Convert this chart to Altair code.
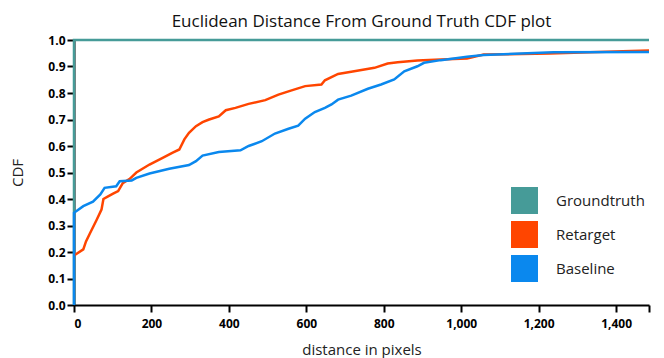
import altair as alt
import pandas as pd

series_names = ["Groundtruth", "Retarget", "Baseline"]
series_colors = ["#469B98", "#FF4500", "#0A88EE"]

gt_x = [0, 0, 1485]
gt_y = [0.0, 1.0, 1.0]

ret_x = [0, 24, 31, 41, 58, 71, 76, 88, 101, 114, 126, 144, 161, 195, 229, 255, 272, 285, 297, 315, 332, 349,
         374, 392, 417, 451, 494, 528, 562, 597, 639, 648, 682, 716, 776, 810, 836, 887, 947, 1015, 1058, 1228, 1417, 1485]
ret_y = [0.187, 0.21, 0.24, 0.27, 0.32, 0.36, 0.40, 0.41, 0.42, 0.43, 0.46, 0.476, 0.50, 0.53, 0.555, 0.575, 0.587,
         0.625, 0.65, 0.675, 0.69, 0.70, 0.712, 0.735, 0.744, 0.759, 0.773, 0.794, 0.81, 0.826, 0.832, 0.848, 0.872,
         0.88, 0.895, 0.911, 0.916, 0.923, 0.926, 0.93, 0.945, 0.949, 0.958, 0.96]

base_x = [0, 0, 24, 49, 68, 79, 109, 118, 149, 161, 195, 246, 297, 315, 332, 374, 430, 451, 485, 519, 554, 579,
          597, 622, 648, 665, 682, 716, 759, 793, 827, 853, 887, 904, 947, 1015, 1058, 1238, 1485]
base_y = [0.0, 0.348, 0.373, 0.39, 0.417, 0.442, 0.448, 0.467, 0.47, 0.48, 0.496, 0.514, 0.528, 0.543, 0.564,
          0.577, 0.584, 0.60, 0.618, 0.647, 0.665, 0.677, 0.703, 0.728, 0.744, 0.757, 0.775, 0.79, 0.816, 0.832,
          0.851, 0.882, 0.901, 0.914, 0.924, 0.937, 0.943, 0.954, 0.955]

rows = []
for name, xs, ys in [("Groundtruth", gt_x, gt_y), ("Retarget", ret_x, ret_y), ("Baseline", base_x, base_y)]:
    for i, (xv, yv) in enumerate(zip(xs, ys)):
        rows.append({"series": name, "order": i, "distance": xv, "cdf": yv})
df = pd.DataFrame(rows)

FONT = "Open Sans"
x_ticks = [0, 200, 400, 600, 800, 1000, 1200, 1400, 1485]
y_ticks = [round(i * 0.1, 1) for i in range(11)]

x_enc = alt.X("distance:Q", scale=alt.Scale(domain=[0, 1485], nice=False, zero=False),
              axis=alt.Axis(title="distance in pixels", values=x_ticks, labelOverlap=False,
                            labelExpr="datum.value == 1485 ? '' : format(datum.value, ',')"))
y_enc = alt.Y("cdf:Q", scale=alt.Scale(domain=[0, 1], nice=False),
              axis=alt.Axis(title="CDF", values=y_ticks, format=".1f", labelOverlap=False))

legend = alt.Legend(title=None, orient="none", legendX=437, legendY=147,
                    symbolType="square", symbolSize=182, symbolStrokeWidth=13.5, symbolOpacity=1,
                    labelFontSize=15, labelFont=FONT, labelColor="#222222", labelOffset=18,
                    clipHeight=27, rowPadding=7)

lines = alt.Chart(df).mark_line(strokeWidth=2.5, clip=False).encode(
    x=x_enc,
    y=y_enc,
    color=alt.Color("series:N", scale=alt.Scale(domain=series_names, range=series_colors), legend=legend),
    order="order:Q",
    detail="series:N",
)

chart = alt.layer(
    lines.transform_filter("datum.series == 'Groundtruth'"),
    lines.transform_filter("datum.series == 'Retarget'"),
    lines.transform_filter("datum.series == 'Baseline'"),
).properties(
    width=575, height=265,
    title=alt.Title("Euclidean Distance From Ground Truth CDF plot", fontSize=17, font=FONT,
                    fontWeight="normal", color="#111111", anchor="middle", offset=3),
    autosize=alt.AutoSizeParams(type="none"),
    padding={"left": 74, "top": 40, "right": 15, "bottom": 53},
).configure_view(stroke=None).configure_axis(
    grid=False, domainColor="#000000", domainWidth=2, tickColor="#000000", tickWidth=2, tickSize=7,
    labelFont=FONT, labelFontSize=12, labelFontWeight="bold", labelColor="#000000",
    titleFont=FONT, titleFontSize=15, titleFontWeight="normal", titleColor="#222222",
).configure_axisY(titlePadding=22, labelPadding=2).configure_axisX(titlePadding=13, labelPadding=6)

chart.save("out.html", embed_options={"renderer": "svg", "actions": False})
